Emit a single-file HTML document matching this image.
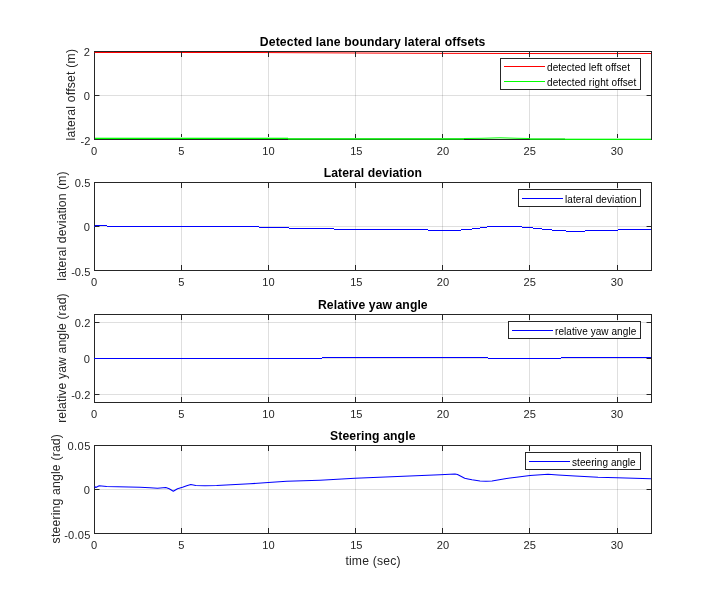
<!DOCTYPE html>
<html><head><meta charset="utf-8"><title>Lane following plots</title>
<style>html,body{margin:0;padding:0;background:#fff;}body{width:720px;height:600px;overflow:hidden;}svg{display:block;will-change:transform;transform:translateZ(0);}text{font-family:"Liberation Sans",sans-serif;}</style></head><body>
<svg width="720" height="600" viewBox="0 0 720 600">
<rect x="0" y="0" width="720" height="600" fill="#ffffff"/>
<g shape-rendering="crispEdges">
<rect x="181" y="52" width="1" height="87" fill="#262626" fill-opacity="0.15"/>
<rect x="268" y="52" width="1" height="87" fill="#262626" fill-opacity="0.15"/>
<rect x="355" y="52" width="1" height="87" fill="#262626" fill-opacity="0.15"/>
<rect x="442" y="52" width="1" height="87" fill="#262626" fill-opacity="0.15"/>
<rect x="529" y="52" width="1" height="87" fill="#262626" fill-opacity="0.15"/>
<rect x="617" y="52" width="1" height="87" fill="#262626" fill-opacity="0.15"/>
<rect x="95" y="95" width="556" height="1" fill="#262626" fill-opacity="0.15"/>
</g>
<g shape-rendering="crispEdges">
<rect x="94" y="51" width="558" height="1" fill="#262626"/>
<rect x="94" y="139" width="558" height="1" fill="#262626"/>
<rect x="94" y="51" width="1" height="89" fill="#262626"/>
<rect x="651" y="51" width="1" height="89" fill="#262626"/>
<rect x="181" y="134" width="1" height="5" fill="#262626"/>
<rect x="181" y="52" width="1" height="5" fill="#262626"/>
<rect x="268" y="134" width="1" height="5" fill="#262626"/>
<rect x="268" y="52" width="1" height="5" fill="#262626"/>
<rect x="355" y="134" width="1" height="5" fill="#262626"/>
<rect x="355" y="52" width="1" height="5" fill="#262626"/>
<rect x="442" y="134" width="1" height="5" fill="#262626"/>
<rect x="442" y="52" width="1" height="5" fill="#262626"/>
<rect x="529" y="134" width="1" height="5" fill="#262626"/>
<rect x="529" y="52" width="1" height="5" fill="#262626"/>
<rect x="617" y="134" width="1" height="5" fill="#262626"/>
<rect x="617" y="52" width="1" height="5" fill="#262626"/>
<rect x="95" y="95" width="4" height="1" fill="#262626"/>
<rect x="99" y="95" width="1" height="1" fill="#8a8a8a"/>
<rect x="647" y="95" width="4" height="1" fill="#262626"/>
<rect x="646" y="95" width="1" height="1" fill="#8a8a8a"/>
</g>
<polyline fill="none" stroke="#ff0000" stroke-width="1" points="94.5,52.5 250,52.5 420,53.3 566,53.6 651,53.5"/>
<g shape-rendering="crispEdges">
<rect x="181" y="52" width="1" height="5" fill="#262626"/>
<rect x="268" y="52" width="1" height="5" fill="#262626"/>
<rect x="355" y="52" width="1" height="5" fill="#262626"/>
<rect x="442" y="52" width="1" height="5" fill="#262626"/>
<rect x="529" y="52" width="1" height="5" fill="#262626"/>
<rect x="617" y="52" width="1" height="5" fill="#262626"/>
<rect x="95" y="138" width="193" height="1" fill="#00ff00"/>
<rect x="95" y="137" width="193" height="1" fill="#b4ffb4"/>
<rect x="288" y="138" width="176" height="1" fill="#2cf02c"/>
<rect x="288" y="139" width="176" height="1" fill="#16ac16"/>
<rect x="530" y="138" width="35" height="1" fill="#55f555"/>
<rect x="530" y="139" width="35" height="1" fill="#12c012"/>
<rect x="565" y="138" width="86" height="1" fill="#aaffaa"/>
<rect x="565" y="139" width="86" height="1" fill="#04f404"/>
</g>
<polyline fill="none" stroke="#00ff00" stroke-width="1" points="464,138.5 482,138.3 500,137.8 518,138.3 530,138.5"/>
<text x="94.2" y="154.6" font-size="11.1" fill="#262626" text-anchor="middle">0</text>
<text x="181.3" y="154.6" font-size="11.1" fill="#262626" text-anchor="middle">5</text>
<text x="268.4" y="154.6" font-size="11.1" fill="#262626" text-anchor="middle">10</text>
<text x="356.3" y="154.6" font-size="11.1" fill="#262626" text-anchor="middle">15</text>
<text x="443.0" y="154.6" font-size="11.1" fill="#262626" text-anchor="middle">20</text>
<text x="529.7" y="154.6" font-size="11.1" fill="#262626" text-anchor="middle">25</text>
<text x="617.0" y="154.6" font-size="11.1" fill="#262626" text-anchor="middle">30</text>
<text x="89.9" y="55.6" font-size="11.1" fill="#262626" text-anchor="end" textLength="6.17" lengthAdjust="spacing">2</text>
<text x="89.9" y="99.6" font-size="11.1" fill="#262626" text-anchor="end" textLength="6.17" lengthAdjust="spacing">0</text>
<text x="90.3" y="144.8" font-size="11.1" fill="#262626" text-anchor="end" textLength="9.87" lengthAdjust="spacing">-2</text>
<text x="372.6" y="46" font-size="12.2" font-weight="bold" fill="#000" text-anchor="middle" textLength="225.52" lengthAdjust="spacing">Detected lane boundary lateral offsets</text>
<text transform="translate(75,94.75) rotate(-90)" font-size="12.2" fill="#262626" text-anchor="middle" textLength="91.41" lengthAdjust="spacing">lateral offset (m)</text>
<g shape-rendering="crispEdges">
<rect x="181" y="183" width="1" height="87" fill="#262626" fill-opacity="0.15"/>
<rect x="268" y="183" width="1" height="87" fill="#262626" fill-opacity="0.15"/>
<rect x="355" y="183" width="1" height="87" fill="#262626" fill-opacity="0.15"/>
<rect x="442" y="183" width="1" height="87" fill="#262626" fill-opacity="0.15"/>
<rect x="529" y="183" width="1" height="87" fill="#262626" fill-opacity="0.15"/>
<rect x="617" y="183" width="1" height="87" fill="#262626" fill-opacity="0.15"/>
<rect x="95" y="226" width="556" height="1" fill="#262626" fill-opacity="0.15"/>
</g>
<g shape-rendering="crispEdges">
<rect x="94" y="182" width="558" height="1" fill="#262626"/>
<rect x="94" y="270" width="558" height="1" fill="#262626"/>
<rect x="94" y="182" width="1" height="89" fill="#262626"/>
<rect x="651" y="182" width="1" height="89" fill="#262626"/>
<rect x="181" y="265" width="1" height="5" fill="#262626"/>
<rect x="181" y="183" width="1" height="5" fill="#262626"/>
<rect x="268" y="265" width="1" height="5" fill="#262626"/>
<rect x="268" y="183" width="1" height="5" fill="#262626"/>
<rect x="355" y="265" width="1" height="5" fill="#262626"/>
<rect x="355" y="183" width="1" height="5" fill="#262626"/>
<rect x="442" y="265" width="1" height="5" fill="#262626"/>
<rect x="442" y="183" width="1" height="5" fill="#262626"/>
<rect x="529" y="265" width="1" height="5" fill="#262626"/>
<rect x="529" y="183" width="1" height="5" fill="#262626"/>
<rect x="617" y="265" width="1" height="5" fill="#262626"/>
<rect x="617" y="183" width="1" height="5" fill="#262626"/>
<rect x="95" y="226" width="4" height="1" fill="#262626"/>
<rect x="99" y="226" width="1" height="1" fill="#8a8a8a"/>
<rect x="647" y="226" width="4" height="1" fill="#262626"/>
<rect x="646" y="226" width="1" height="1" fill="#8a8a8a"/>
</g>
<g shape-rendering="crispEdges">
<rect x="94" y="226" width="1" height="1" fill="#0000ff"/>
<rect x="95" y="225" width="12" height="1" fill="#0000ff"/>
<rect x="107" y="226" width="152" height="1" fill="#0000ff"/>
<rect x="259" y="227" width="30" height="1" fill="#0000ff"/>
<rect x="289" y="228" width="45" height="1" fill="#0000ff"/>
<rect x="334" y="229" width="94" height="1" fill="#0000ff"/>
<rect x="428" y="230" width="33" height="1" fill="#0000ff"/>
<rect x="461" y="229" width="11" height="1" fill="#0000ff"/>
<rect x="472" y="228" width="8" height="1" fill="#0000ff"/>
<rect x="480" y="227" width="7" height="1" fill="#0000ff"/>
<rect x="487" y="226" width="35" height="1" fill="#0000ff"/>
<rect x="522" y="227" width="11" height="1" fill="#0000ff"/>
<rect x="533" y="228" width="9" height="1" fill="#0000ff"/>
<rect x="542" y="229" width="10" height="1" fill="#0000ff"/>
<rect x="552" y="230" width="14" height="1" fill="#0000ff"/>
<rect x="566" y="231" width="19" height="1" fill="#0000ff"/>
<rect x="585" y="230" width="33" height="1" fill="#0000ff"/>
<rect x="618" y="229" width="33" height="1" fill="#0000ff"/>
</g>
<text x="94.2" y="285.6" font-size="11.1" fill="#262626" text-anchor="middle">0</text>
<text x="181.3" y="285.6" font-size="11.1" fill="#262626" text-anchor="middle">5</text>
<text x="268.4" y="285.6" font-size="11.1" fill="#262626" text-anchor="middle">10</text>
<text x="356.3" y="285.6" font-size="11.1" fill="#262626" text-anchor="middle">15</text>
<text x="443.0" y="285.6" font-size="11.1" fill="#262626" text-anchor="middle">20</text>
<text x="529.7" y="285.6" font-size="11.1" fill="#262626" text-anchor="middle">25</text>
<text x="617.0" y="285.6" font-size="11.1" fill="#262626" text-anchor="middle">30</text>
<text x="90.3" y="186.6" font-size="11.1" fill="#262626" text-anchor="end" textLength="15.43" lengthAdjust="spacing">0.5</text>
<text x="89.9" y="230.6" font-size="11.1" fill="#262626" text-anchor="end" textLength="6.17" lengthAdjust="spacing">0</text>
<text x="90.3" y="275.8" font-size="11.1" fill="#262626" text-anchor="end" textLength="19.13" lengthAdjust="spacing">-0.5</text>
<text x="372.8" y="177" font-size="12.2" font-weight="bold" fill="#000" text-anchor="middle" textLength="98.15" lengthAdjust="spacing">Lateral deviation</text>
<text transform="translate(66,226) rotate(-90)" font-size="12.2" fill="#262626" text-anchor="middle" textLength="109.33" lengthAdjust="spacing">lateral deviation (m)</text>
<g shape-rendering="crispEdges">
<rect x="181" y="315" width="1" height="87" fill="#262626" fill-opacity="0.15"/>
<rect x="268" y="315" width="1" height="87" fill="#262626" fill-opacity="0.15"/>
<rect x="355" y="315" width="1" height="87" fill="#262626" fill-opacity="0.15"/>
<rect x="442" y="315" width="1" height="87" fill="#262626" fill-opacity="0.15"/>
<rect x="529" y="315" width="1" height="87" fill="#262626" fill-opacity="0.15"/>
<rect x="617" y="315" width="1" height="87" fill="#262626" fill-opacity="0.15"/>
<rect x="95" y="322" width="556" height="1" fill="#262626" fill-opacity="0.15"/>
<rect x="95" y="358" width="556" height="1" fill="#262626" fill-opacity="0.15"/>
<rect x="95" y="394" width="556" height="1" fill="#262626" fill-opacity="0.15"/>
</g>
<g shape-rendering="crispEdges">
<rect x="94" y="314" width="558" height="1" fill="#262626"/>
<rect x="94" y="402" width="558" height="1" fill="#262626"/>
<rect x="94" y="314" width="1" height="89" fill="#262626"/>
<rect x="651" y="314" width="1" height="89" fill="#262626"/>
<rect x="181" y="397" width="1" height="5" fill="#262626"/>
<rect x="181" y="315" width="1" height="5" fill="#262626"/>
<rect x="268" y="397" width="1" height="5" fill="#262626"/>
<rect x="268" y="315" width="1" height="5" fill="#262626"/>
<rect x="355" y="397" width="1" height="5" fill="#262626"/>
<rect x="355" y="315" width="1" height="5" fill="#262626"/>
<rect x="442" y="397" width="1" height="5" fill="#262626"/>
<rect x="442" y="315" width="1" height="5" fill="#262626"/>
<rect x="529" y="397" width="1" height="5" fill="#262626"/>
<rect x="529" y="315" width="1" height="5" fill="#262626"/>
<rect x="617" y="397" width="1" height="5" fill="#262626"/>
<rect x="617" y="315" width="1" height="5" fill="#262626"/>
<rect x="95" y="322" width="4" height="1" fill="#262626"/>
<rect x="99" y="322" width="1" height="1" fill="#8a8a8a"/>
<rect x="647" y="322" width="4" height="1" fill="#262626"/>
<rect x="646" y="322" width="1" height="1" fill="#8a8a8a"/>
<rect x="95" y="358" width="4" height="1" fill="#262626"/>
<rect x="99" y="358" width="1" height="1" fill="#8a8a8a"/>
<rect x="647" y="358" width="4" height="1" fill="#262626"/>
<rect x="646" y="358" width="1" height="1" fill="#8a8a8a"/>
<rect x="95" y="394" width="4" height="1" fill="#262626"/>
<rect x="99" y="394" width="1" height="1" fill="#8a8a8a"/>
<rect x="647" y="394" width="4" height="1" fill="#262626"/>
<rect x="646" y="394" width="1" height="1" fill="#8a8a8a"/>
</g>
<g shape-rendering="crispEdges">
<rect x="94" y="358" width="228" height="1" fill="#0000ff"/>
<rect x="322" y="357" width="166" height="1" fill="#0000ff"/>
<rect x="488" y="358" width="73" height="1" fill="#0000ff"/>
<rect x="561" y="357" width="90" height="1" fill="#0000ff"/>
</g>
<text x="94.2" y="417.6" font-size="11.1" fill="#262626" text-anchor="middle">0</text>
<text x="181.3" y="417.6" font-size="11.1" fill="#262626" text-anchor="middle">5</text>
<text x="268.4" y="417.6" font-size="11.1" fill="#262626" text-anchor="middle">10</text>
<text x="356.3" y="417.6" font-size="11.1" fill="#262626" text-anchor="middle">15</text>
<text x="443.0" y="417.6" font-size="11.1" fill="#262626" text-anchor="middle">20</text>
<text x="529.7" y="417.6" font-size="11.1" fill="#262626" text-anchor="middle">25</text>
<text x="617.0" y="417.6" font-size="11.1" fill="#262626" text-anchor="middle">30</text>
<text x="90.3" y="326.6" font-size="11.1" fill="#262626" text-anchor="end" textLength="15.43" lengthAdjust="spacing">0.2</text>
<text x="89.9" y="362.6" font-size="11.1" fill="#262626" text-anchor="end" textLength="6.17" lengthAdjust="spacing">0</text>
<text x="90.3" y="398.6" font-size="11.1" fill="#262626" text-anchor="end" textLength="19.13" lengthAdjust="spacing">-0.2</text>
<text x="372.8" y="309" font-size="12.2" font-weight="bold" fill="#000" text-anchor="middle" textLength="109.70" lengthAdjust="spacing">Relative yaw angle</text>
<text transform="translate(66,358.1) rotate(-90)" font-size="12.2" fill="#262626" text-anchor="middle" textLength="129.55" lengthAdjust="spacing">relative yaw angle (rad)</text>
<g shape-rendering="crispEdges">
<rect x="181" y="446" width="1" height="87" fill="#262626" fill-opacity="0.15"/>
<rect x="268" y="446" width="1" height="87" fill="#262626" fill-opacity="0.15"/>
<rect x="355" y="446" width="1" height="87" fill="#262626" fill-opacity="0.15"/>
<rect x="442" y="446" width="1" height="87" fill="#262626" fill-opacity="0.15"/>
<rect x="529" y="446" width="1" height="87" fill="#262626" fill-opacity="0.15"/>
<rect x="617" y="446" width="1" height="87" fill="#262626" fill-opacity="0.15"/>
<rect x="95" y="489" width="556" height="1" fill="#262626" fill-opacity="0.15"/>
</g>
<g shape-rendering="crispEdges">
<rect x="94" y="445" width="558" height="1" fill="#262626"/>
<rect x="94" y="533" width="558" height="1" fill="#262626"/>
<rect x="94" y="445" width="1" height="89" fill="#262626"/>
<rect x="651" y="445" width="1" height="89" fill="#262626"/>
<rect x="181" y="528" width="1" height="5" fill="#262626"/>
<rect x="181" y="446" width="1" height="5" fill="#262626"/>
<rect x="268" y="528" width="1" height="5" fill="#262626"/>
<rect x="268" y="446" width="1" height="5" fill="#262626"/>
<rect x="355" y="528" width="1" height="5" fill="#262626"/>
<rect x="355" y="446" width="1" height="5" fill="#262626"/>
<rect x="442" y="528" width="1" height="5" fill="#262626"/>
<rect x="442" y="446" width="1" height="5" fill="#262626"/>
<rect x="529" y="528" width="1" height="5" fill="#262626"/>
<rect x="529" y="446" width="1" height="5" fill="#262626"/>
<rect x="617" y="528" width="1" height="5" fill="#262626"/>
<rect x="617" y="446" width="1" height="5" fill="#262626"/>
<rect x="95" y="489" width="4" height="1" fill="#262626"/>
<rect x="99" y="489" width="1" height="1" fill="#8a8a8a"/>
<rect x="647" y="489" width="4" height="1" fill="#262626"/>
<rect x="646" y="489" width="1" height="1" fill="#8a8a8a"/>
</g>
<polyline fill="none" stroke="#0000ff" stroke-width="1.05" stroke-linejoin="round" points="94.5,486.3 95.8,487.5 99.2,485.7 106.7,486.5 140,487.3 150,487.7 157.5,488.2 165.8,487.5 169.2,488.75 173.3,491.25 177.5,488.75 182.5,487.25 186.7,485.7 190.8,484.6 195.8,485.4 205,485.7 216.7,485.5 250,483.8 268.3,482.5 286.7,481.3 320,480.2 355,478.3 440,474.8 455,474 457.5,474.5 464.7,478.3 468,479.0 472,479.8 480,480.9 486,481.3 492,480.9 505,478.7 518.3,477 530,475.4 548,474.3 558,475 575,476 598,477.2 617,477.7 651,478.8"/>
<text x="94.2" y="548.6" font-size="11.1" fill="#262626" text-anchor="middle">0</text>
<text x="181.3" y="548.6" font-size="11.1" fill="#262626" text-anchor="middle">5</text>
<text x="268.4" y="548.6" font-size="11.1" fill="#262626" text-anchor="middle">10</text>
<text x="356.3" y="548.6" font-size="11.1" fill="#262626" text-anchor="middle">15</text>
<text x="443.0" y="548.6" font-size="11.1" fill="#262626" text-anchor="middle">20</text>
<text x="529.7" y="548.6" font-size="11.1" fill="#262626" text-anchor="middle">25</text>
<text x="617.0" y="548.6" font-size="11.1" fill="#262626" text-anchor="middle">30</text>
<text x="90.3" y="449.6" font-size="11.1" fill="#262626" text-anchor="end" textLength="22.90" lengthAdjust="spacing">0.05</text>
<text x="89.9" y="493.6" font-size="11.1" fill="#262626" text-anchor="end" textLength="6.17" lengthAdjust="spacing">0</text>
<text x="90.3" y="538.8" font-size="11.1" fill="#262626" text-anchor="end" textLength="26.10" lengthAdjust="spacing">-0.05</text>
<text x="372.7" y="440" font-size="12.2" font-weight="bold" fill="#000" text-anchor="middle" textLength="85.47" lengthAdjust="spacing">Steering angle</text>
<text transform="translate(59.5,488.75) rotate(-90)" font-size="12.2" fill="#262626" text-anchor="middle" textLength="109.29" lengthAdjust="spacing">steering angle (rad)</text>
<g shape-rendering="crispEdges">
<rect x="500.5" y="58.5" width="140" height="31" fill="#fff" stroke="#262626" stroke-width="1"/>
<rect x="504" y="66" width="41" height="1" fill="#ff0000"/>
<rect x="504" y="81" width="41" height="1" fill="#00ff00"/>
</g>
<text x="547.0" y="70.5" font-size="10" fill="#000" textLength="82.94" lengthAdjust="spacing">detected left offset</text>
<text x="547.0" y="85.5" font-size="10" fill="#000" textLength="89.25" lengthAdjust="spacing">detected right offset</text>
<g shape-rendering="crispEdges">
<rect x="518.5" y="189.5" width="122" height="17" fill="#fff" stroke="#262626" stroke-width="1"/>
<rect x="522" y="198" width="41" height="1" fill="#0000ff"/>
</g>
<text x="565.0" y="202.5" font-size="10" fill="#000" textLength="71.44" lengthAdjust="spacing">lateral deviation</text>
<g shape-rendering="crispEdges">
<rect x="508.5" y="321.5" width="132" height="17" fill="#fff" stroke="#262626" stroke-width="1"/>
<rect x="512" y="330" width="41" height="1" fill="#0000ff"/>
</g>
<text x="555.0" y="334.5" font-size="10" fill="#000" textLength="81.24" lengthAdjust="spacing">relative yaw angle</text>
<g shape-rendering="crispEdges">
<rect x="525.5" y="452.5" width="115" height="17" fill="#fff" stroke="#262626" stroke-width="1"/>
<rect x="529" y="461" width="41" height="1" fill="#0000ff"/>
</g>
<text x="572.0" y="465.5" font-size="10" fill="#000" textLength="63.62" lengthAdjust="spacing">steering angle</text>
<text x="373" y="564.7" font-size="12.2" fill="#262626" text-anchor="middle" textLength="55.25" lengthAdjust="spacing">time (sec)</text>
</svg></body></html>
